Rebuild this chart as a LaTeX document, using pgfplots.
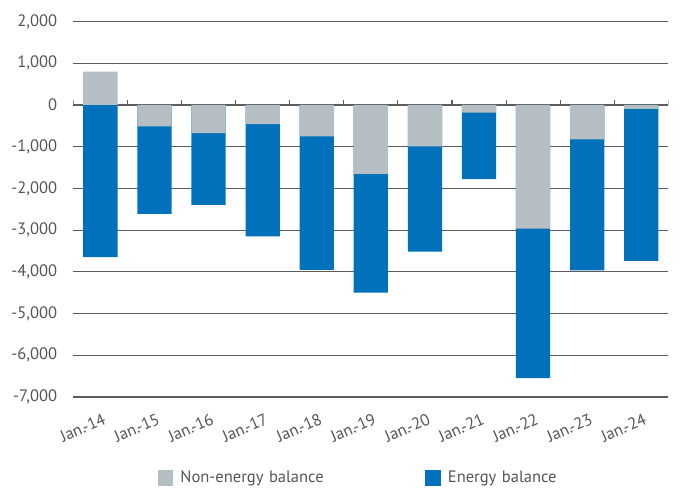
\documentclass[border=0pt]{standalone}
\usepackage{pgfplots}
\pgfplotsset{compat=1.18}
\usepackage{pgfplotstable}
\usepackage{fontspec}
\setmainfont{PT Sans}

\definecolor{energyblue}{HTML}{0071BA}
\definecolor{nonenergygrey}{HTML}{B4BEC3}
\definecolor{labelgrey}{HTML}{555555}
\definecolor{gridgrey}{HTML}{5C5C5C}

% Trade balance split into non-energy and energy parts (January of each year)
\pgfplotstableread{
idx nonenergy energy
0    800  -3650
1   -515  -2095
2   -675  -1720
3   -460  -2690
4   -750  -3200
5  -1650  -2850
6   -995  -2520
7   -185  -1590
8  -2965  -3580
9   -825  -3140
10   -95  -3640
}\balance

\newcommand{\chartfont}{\fontsize{12.4}{14}\selectfont}

\begin{document}
\begin{tikzpicture}
\begin{axis}[
  scale only axis,
  width=446.25pt, height=281.6pt,
  xmin=-0.5, xmax=10.5,
  ymin=-7000, ymax=2000,
  axis line style={draw=none},
  major tick length=0pt,
  ytick={-7000,-6000,...,2000},
  ymajorgrids,
  grid style={gridgrey, line width=0.8pt},
  scaled y ticks=false,
  /pgf/number format/.cd, 1000 sep={,}, assume math mode=true,
  /pgfplots/.cd,
  yticklabel style={font=\chartfont, text=labelgrey, inner sep=0pt, xshift=-12pt},
  xtick={0,...,10},
  xticklabels={Jan.-14,Jan.-15,Jan.-16,Jan.-17,Jan.-18,Jan.-19,Jan.-20,Jan.-21,Jan.-22,Jan.-23,Jan.-24},
  xticklabel style={font=\chartfont, text=labelgrey, inner sep=0pt, rotate=24, anchor=north east, xshift=-3.5pt, yshift=-11pt},
  legend columns=2,
  legend style={draw=none, fill=none, inner sep=0pt, outer sep=0pt,
    at={([xshift=63.5pt, yshift=-60.75pt]rel axis cs:0,0)}, anchor=west,
    font=\chartfont, text=labelgrey,
    nodes={inner sep=0pt, text width=183.75pt, align=left},
    /tikz/every odd column/.append style={column sep=5.25pt}},
  legend image code/.code={\fill[#1, draw=none] (0pt,-5.9pt) rectangle (11.6pt,5.9pt);},
]
\coordinate (O) at (rel axis cs:0,0);

% energy bar reaches from the bottom of the non-energy part down to the total
\addplot[ybar, bar width=25.7pt, bar shift=0pt, fill=energyblue, draw=none, forget plot]
  table[x=idx, y expr={min(\thisrow{nonenergy},0)+\thisrow{energy}}]{\balance};
\addplot[ybar, bar width=25.7pt, bar shift=0pt, fill=nonenergygrey, draw=none, forget plot]
  table[x=idx, y=nonenergy]{\balance};

% short ticks on the zero line between categories
\pgfplotsinvokeforeach{-0.5,0.5,1.5,2.5,3.5,4.5,5.5,6.5,7.5,8.5,9.5,10.5}{
  \draw[gridgrey, line width=0.8pt] (axis cs:#1,0) -- ([yshift=3.75pt]axis cs:#1,0);
}

\addlegendimage{fill=nonenergygrey}
\addlegendentry{Non-energy balance}
\addlegendimage{fill=energyblue}
\addlegendentry{Energy balance}
\end{axis}
\pgfresetboundingbox
\path[use as bounding box] ([shift={(-55pt,-69pt)}]O) rectangle ([shift={(455.75pt,297.75pt)}]O);
\end{tikzpicture}
\end{document}
